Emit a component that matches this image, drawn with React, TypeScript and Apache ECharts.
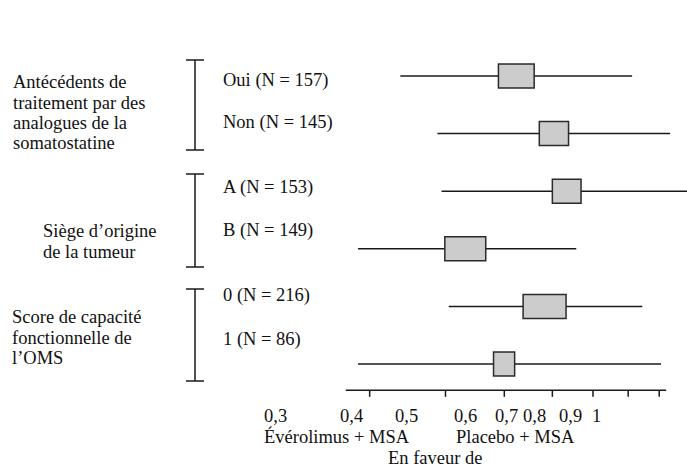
import React, { useEffect, useRef } from 'react';
import * as echarts from 'echarts';

// ---- data ----
const rowLabels = ['Oui (N = 157)', 'Non (N = 145)', 'A (N = 153)', 'B (N = 149)', '0 (N = 216)', '1 (N = 86)'];
const rowIndex = [1, 2, 3, 4, 5, 6];
const ciLow = [0.337, 0.388, 0.394, 0.287, 0.405, 0.287];
const ciHigh = [0.812, 0.938, 1.0, 0.657, 0.844, 0.906];
const boxLow = [0.489, 0.571, 0.6, 0.399, 0.537, 0.48];
const boxHigh = [0.56, 0.638, 0.669, 0.466, 0.632, 0.52];

const tickValues = [0.3, 0.4, 0.5, 0.6, 0.7, 0.8, 0.9];
const tickLabels = ['0,3', '0,4', '0,5', '0,6', '0,7', '0,8', '0,9', '1'];
const axisExtent = [0.274, 0.924];
const axisRow = 6.457;

const groupLabels = [
  ['Antécédents de', 'traitement par des', 'analogues de la', 'somatostatine'],
  ['Siège d’origine', 'de la tumeur'],
  ['Score de capacité', 'fonctionnelle de', 'l’OMS'],
];
const favourLeft = 'Évérolimus + MSA';
const favourRight = 'Placebo + MSA';
const favourTitle = 'En faveur de';

// ---- layout / style (not data) ----
const FONT = 'Liberation Serif, Times New Roman, serif';
const FS = 18.5;
const TXT = '#111111';
const LINE = '#1a1a1a';

const rowLabelY = [80, 122, 187, 230, 295, 339];
const groupPos = [
  { x: 13, y: [82, 103, 123, 143] },
  { x: 43, y: [231, 252] },
  { x: 12, y: [317, 338, 358] },
];
const brackets = [
  [60, 150],
  [174, 267],
  [289, 381],
];
const tickLabelX = [264, 340, 395, 454, 495, 523, 559, 592];

function txt(text: string, x: number, y: number) {
  return {
    type: 'text',
    x,
    y,
    silent: true,
    style: { text, fontFamily: FONT, fontSize: FS, fill: TXT, verticalAlign: 'middle', align: 'left' },
  };
}

function buildOption() {
  const graphics: any[] = [];
  groupLabels.forEach((lines, gi) => {
    lines.forEach((l, li) => graphics.push(txt(l, groupPos[gi].x, groupPos[gi].y[li])));
  });
  rowLabels.forEach((l, i) => graphics.push(txt(l, 223, rowLabelY[i])));
  brackets.forEach(([y1, y2]) => {
    const st = { stroke: LINE, lineWidth: 1.5 };
    graphics.push({ type: 'line', silent: true, shape: { x1: 195, y1, x2: 195, y2 }, style: st });
    graphics.push({ type: 'line', silent: true, shape: { x1: 186, y1, x2: 204, y2: y1 }, style: st });
    graphics.push({ type: 'line', silent: true, shape: { x1: 186, y1: y2, x2: 204, y2 }, style: st });
  });
  tickLabels.forEach((l, i) => graphics.push(txt(l, tickLabelX[i], 416)));
  graphics.push(txt(favourLeft, 264, 437));
  graphics.push(txt(favourRight, 456, 437));
  graphics.push(txt(favourTitle, 388, 458));

  const forestData = rowIndex.map((r, i) => [
    r,
    Math.log(ciLow[i]),
    Math.log(ciHigh[i]),
    Math.log(boxLow[i]),
    Math.log(boxHigh[i]),
  ]);

  return {
    animation: false,
    backgroundColor: '#ffffff',
    grid: { left: 0, right: 0, top: 18.4, bottom: 24.6 },
    xAxis: {
      type: 'value',
      min: Math.log(0.0738),
      max: 0,
      show: false,
    },
    yAxis: {
      type: 'value',
      min: 0,
      max: 7.5,
      inverse: true,
      show: false,
    },
    graphic: graphics,
    series: [
      {
        type: 'line',
        data: axisExtent.map((v) => [Math.log(v), axisRow]),
        symbol: 'none',
        lineStyle: { color: LINE, width: 1.5 },
        silent: true,
      },
      {
        type: 'custom',
        data: tickValues.map((v) => [Math.log(v), axisRow]),
        silent: true,
        renderItem: (params: any, api: any) => {
          const p = api.coord([api.value(0), api.value(1)]);
          return {
            type: 'line',
            shape: { x1: p[0], y1: p[1], x2: p[0], y2: p[1] + 6.5 },
            style: { stroke: LINE, lineWidth: 1.5 },
          };
        },
      },
      {
        type: 'custom',
        data: forestData,
        encode: { x: [1, 2, 3, 4], y: 0 },
        silent: true,
        renderItem: (params: any, api: any) => {
          const y = api.value(0);
          const lo = api.coord([api.value(1), y]);
          const hi = api.coord([api.value(2), y]);
          const bl = api.coord([api.value(3), y]);
          const bh = api.coord([api.value(4), y]);
          const h = 24;
          return {
            type: 'group',
            children: [
              {
                type: 'line',
                shape: { x1: lo[0], y1: lo[1], x2: hi[0], y2: hi[1] },
                style: { stroke: LINE, lineWidth: 1.5 },
              },
              {
                type: 'rect',
                shape: { x: bl[0], y: bl[1] - h / 2, width: bh[0] - bl[0], height: h },
                style: { fill: '#cccccc', stroke: '#2a2a2a', lineWidth: 1.5 },
              },
            ],
          };
        },
      },
    ],
  };
}

export default function App() {
  const ref = useRef<HTMLDivElement>(null);
  useEffect(() => {
    document.body.style.margin = '0';
    const chart = echarts.init(ref.current as HTMLDivElement, null, { renderer: 'svg' });
    chart.setOption(buildOption() as any);
    return () => chart.dispose();
  }, []);
  return (
    <div
      ref={ref}
      style={{ position: 'absolute', left: 0, top: 0, width: 687, height: 475, background: '#ffffff' }}
    />
  );
}
